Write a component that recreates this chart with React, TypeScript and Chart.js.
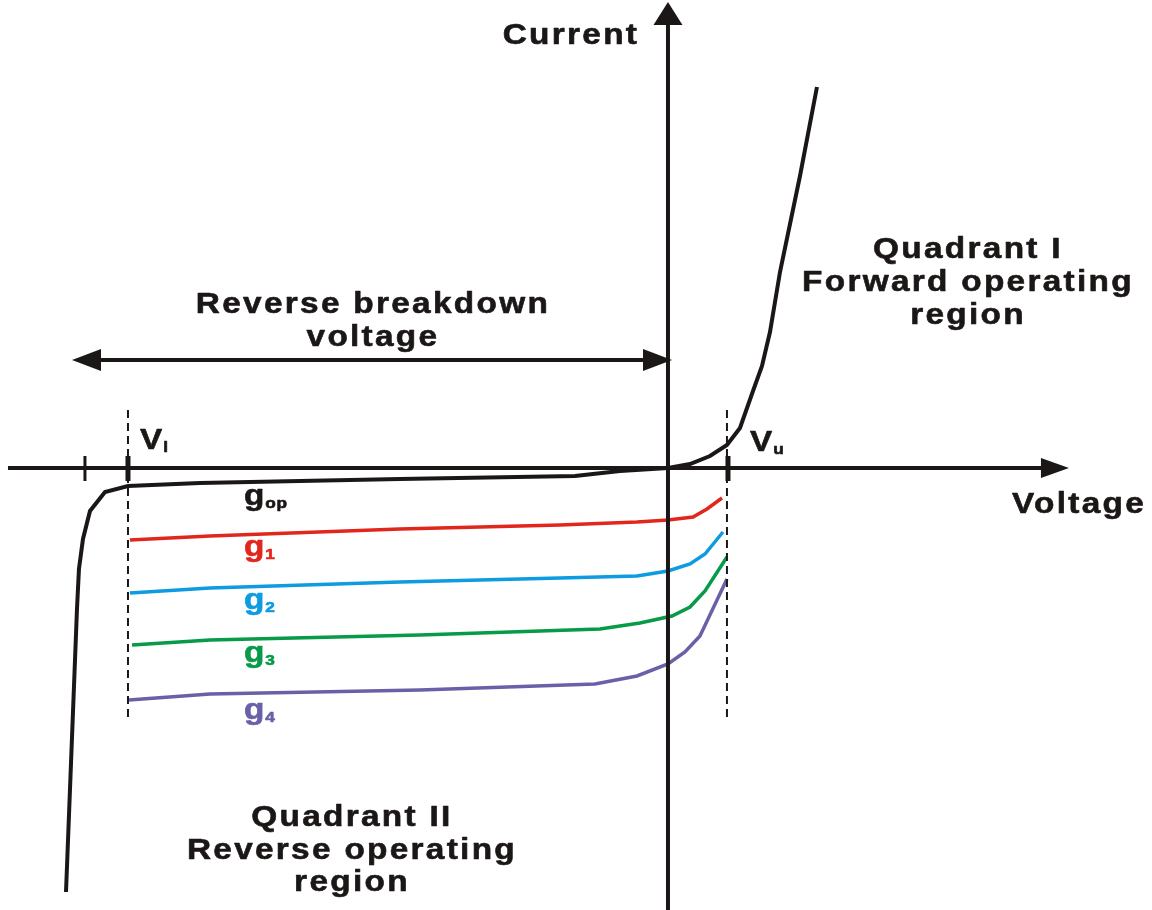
import { useEffect, useRef } from "react";
import { Chart, registerables } from "chart.js";

Chart.register(...registerables);

// ---- scale extents (voltage / current units) ----
const X_MIN = -11.133;
const X_MAX = 8.067;
const Y_MIN = -8.84;
const Y_MAX = 9.36;

// ---- characteristic curves ----
const opV = [-10.033, -9.85, -9.817, -9.75, -9.633, -9.383, -9.0, -7.8, -4.467, -1.55, -0.8, 0, 0.367, 0.7, 0.983, 1.2, 1.417, 1.567, 1.7, 1.867, 2.2, 2.483];
const opI = [-8.48, -2.82, -2.02, -1.42, -0.86, -0.48, -0.36, -0.3, -0.22, -0.16, -0.06, 0, 0.08, 0.24, 0.46, 0.8, 1.54, 2.04, 2.72, 3.92, 5.84, 7.62];

const g1V = [-8.967, -7.633, -4.467, -1.8, -0.517, 0, 0.417, 0.65, 0.9];
const g1I = [-1.44, -1.36, -1.22, -1.14, -1.08, -1.04, -0.98, -0.82, -0.6];

const g2V = [-8.967, -7.633, -4.467, -1.8, -0.517, 0, 0.367, 0.617, 0.917];
const g2I = [-2.5, -2.4, -2.28, -2.2, -2.16, -2.06, -1.92, -1.72, -1.28];

const g3V = [-8.933, -7.633, -4.133, -1.133, -0.467, 0.067, 0.367, 0.617, 0.983];
const g3I = [-3.54, -3.44, -3.34, -3.22, -3.1, -2.96, -2.78, -2.46, -1.78];

const g4V = [-8.983, -7.633, -4.133, -1.217, -0.517, 0, 0.283, 0.533, 0.983];
const g4I = [-4.64, -4.52, -4.44, -4.32, -4.16, -3.92, -3.68, -3.36, -2.22];

// ---- axes / markers ----
const AXIS_X_START = -11.0;
const AXIS_X_TIP = 6.683;
const AXIS_Y_TIP = 9.32;
const SPAN_FROM = -9.933;
const SPAN_TO = 0.067;
const SPAN_LEVEL = 2.16;
const TICK_POS = [-9.717, -9.0, 1.0];
const V_LOWER = -9.0;
const V_UPPER = 0.983;
const DASH_TOP = 1.16;
const DASH_BOTTOM = -5.0;

// ---- colours ----
const BLACK = "#1b1716";
const RED = "#e1261c";
const BLUE = "#0e9be0";
const GREEN = "#079a48";
const PURPLE = "#6861a8";

// ---- text ----
const blockLabels = [
  { text: "Current", x: -1.617, y: 8.48 },
  { text: "Voltage", x: 6.85, y: -0.9 },
  { text: "Quadrant I", x: 5.0, y: 4.2 },
  { text: "Forward operating", x: 5.0, y: 3.54 },
  { text: "region", x: 5.0, y: 2.88 },
  { text: "Reverse breakdown", x: -4.917, y: 3.1 },
  { text: "voltage", x: -4.917, y: 2.44 },
  { text: "Quadrant II", x: -5.267, y: -7.16 },
  { text: "Reverse operating", x: -5.267, y: -7.82 },
  { text: "region", x: -5.267, y: -8.46 },
];

const subLabels = [
  { main: "V", sub: "l", x: -8.8, y: 0.38, color: BLACK },
  { main: "V", sub: "u", x: 1.367, y: 0.34, color: BLACK },
  { main: "g", sub: "op", x: -7.067, y: -0.74, color: BLACK },
  { main: "g", sub: "1", x: -7.067, y: -1.76, color: RED },
  { main: "g", sub: "2", x: -7.067, y: -2.82, color: BLUE },
  { main: "g", sub: "3", x: -7.067, y: -3.88, color: GREEN },
  { main: "g", sub: "4", x: -7.067, y: -5.02, color: PURPLE },
];

const FONT = "'Liberation Sans', Arial, sans-serif";
const SX = 1.15;

function pts(xs: number[], ys: number[]) {
  return xs.map((x, i) => ({ x, y: ys[i] }));
}

function head(ctx: CanvasRenderingContext2D, tx: number, ty: number, dx: number, dy: number, len: number, hw: number) {
  const bx = tx - dx * len;
  const by = ty - dy * len;
  const nx = -dy;
  const ny = dx;
  ctx.beginPath();
  ctx.moveTo(tx, ty);
  ctx.lineTo(bx + nx * hw, by + ny * hw);
  ctx.lineTo(bx - nx * hw, by - ny * hw);
  ctx.closePath();
  ctx.fill();
}

function drawText(ctx: CanvasRenderingContext2D, text: string, x: number, y: number, size: number, align: CanvasTextAlign, spacing: number) {
  ctx.save();
  ctx.translate(x, y);
  ctx.scale(SX, 1);
  ctx.font = `bold ${size}px ${FONT}`;
  (ctx as any).letterSpacing = `${spacing}px`;
  ctx.textAlign = align;
  ctx.textBaseline = "alphabetic";
  ctx.lineJoin = "round";
  ctx.lineWidth = 0.6;
  ctx.strokeStyle = ctx.fillStyle as string;
  ctx.fillText(text, 0, 0);
  ctx.strokeText(text, 0, 0);
  const w = ctx.measureText(text).width * SX;
  ctx.restore();
  return w;
}

const diagramPlugin = {
  id: "diagram",
  afterDatasetsDraw(chart: any) {
    const ctx: CanvasRenderingContext2D = chart.ctx;
    const xs = chart.scales.x;
    const ys = chart.scales.y;
    const X = (v: number) => xs.getPixelForValue(v);
    const Y = (v: number) => ys.getPixelForValue(v);
    ctx.save();
    ctx.strokeStyle = BLACK;
    ctx.fillStyle = BLACK;
    ctx.lineCap = "butt";

    // dashed guide lines
    ctx.lineWidth = 2;
    ctx.setLineDash([8, 5]);
    [V_LOWER, V_UPPER].forEach((v) => {
      ctx.beginPath();
      ctx.moveTo(X(v), Y(DASH_TOP));
      ctx.lineTo(X(v), Y(DASH_BOTTOM));
      ctx.stroke();
    });
    ctx.setLineDash([]);

    // horizontal axis
    ctx.lineWidth = 4;
    ctx.beginPath();
    ctx.moveTo(X(AXIS_X_START), Y(0));
    ctx.lineTo(X(AXIS_X_TIP) - 20, Y(0));
    ctx.stroke();
    head(ctx, X(AXIS_X_TIP), Y(0), 1, 0, 28, 10);

    // vertical axis
    ctx.beginPath();
    ctx.moveTo(X(0), Y(Y_MIN));
    ctx.lineTo(X(0), Y(AXIS_Y_TIP) + 18);
    ctx.stroke();
    head(ctx, X(0), Y(AXIS_Y_TIP), 0, -1, 23, 14.5);

    // breakdown span arrow
    ctx.lineWidth = 4;
    ctx.beginPath();
    ctx.moveTo(X(SPAN_FROM) + 20, Y(SPAN_LEVEL));
    ctx.lineTo(X(SPAN_TO) - 20, Y(SPAN_LEVEL));
    ctx.stroke();
    head(ctx, X(SPAN_FROM), Y(SPAN_LEVEL), -1, 0, 29, 11);
    head(ctx, X(SPAN_TO), Y(SPAN_LEVEL), 1, 0, 29, 11);

    // ticks
    TICK_POS.forEach((v, i) => {
      ctx.lineWidth = i === 0 ? 3 : 5;
      ctx.beginPath();
      ctx.moveTo(X(v), Y(0) - 12);
      ctx.lineTo(X(v), Y(0) + 13);
      ctx.stroke();
    });

    // block labels
    ctx.fillStyle = BLACK;
    blockLabels.forEach((l) => {
      drawText(ctx, l.text, X(l.x), Y(l.y), 29, "center", 2);
    });

    // subscripted labels
    subLabels.forEach((l) => {
      ctx.fillStyle = l.color;
      const w = drawText(ctx, l.main, X(l.x), Y(l.y), 29, "left", 0);
      drawText(ctx, l.sub, X(l.x) + w + 1, Y(l.y) + 3, 15, "left", 0.5);
    });

    ctx.restore();
  },
};

export default function App() {
  const ref = useRef<HTMLCanvasElement | null>(null);

  useEffect(() => {
    document.body.style.margin = "0";
    if (!ref.current) return;
    const line = (data: { x: number; y: number }[], color: string, width: number) => ({
      data,
      borderColor: color,
      backgroundColor: color,
      borderWidth: width,
      showLine: true,
      pointRadius: 0,
      tension: 0,
      fill: false,
    });
    const chart = new Chart(ref.current, {
      type: "scatter",
      data: {
        datasets: [
          line(pts(g1V, g1I), RED, 3.5),
          line(pts(g2V, g2I), BLUE, 3.5),
          line(pts(g3V, g3I), GREEN, 3.5),
          line(pts(g4V, g4I), PURPLE, 3.5),
          line(pts(opV, opI), BLACK, 4),
        ] as any,
      },
      options: {
        animation: false,
        responsive: true,
        maintainAspectRatio: false,
        layout: { padding: 0 },
        plugins: { legend: { display: false }, tooltip: { enabled: false } },
        scales: {
          x: { type: "linear", min: X_MIN, max: X_MAX, display: false },
          y: { type: "linear", min: Y_MIN, max: Y_MAX, display: false },
        },
      },
      plugins: [diagramPlugin],
    });
    return () => chart.destroy();
  }, []);

  return (
    <div style={{ position: "absolute", left: 0, top: 0, width: 1152, height: 910, background: "#fff" }}>
      <canvas ref={ref} />
    </div>
  );
}
